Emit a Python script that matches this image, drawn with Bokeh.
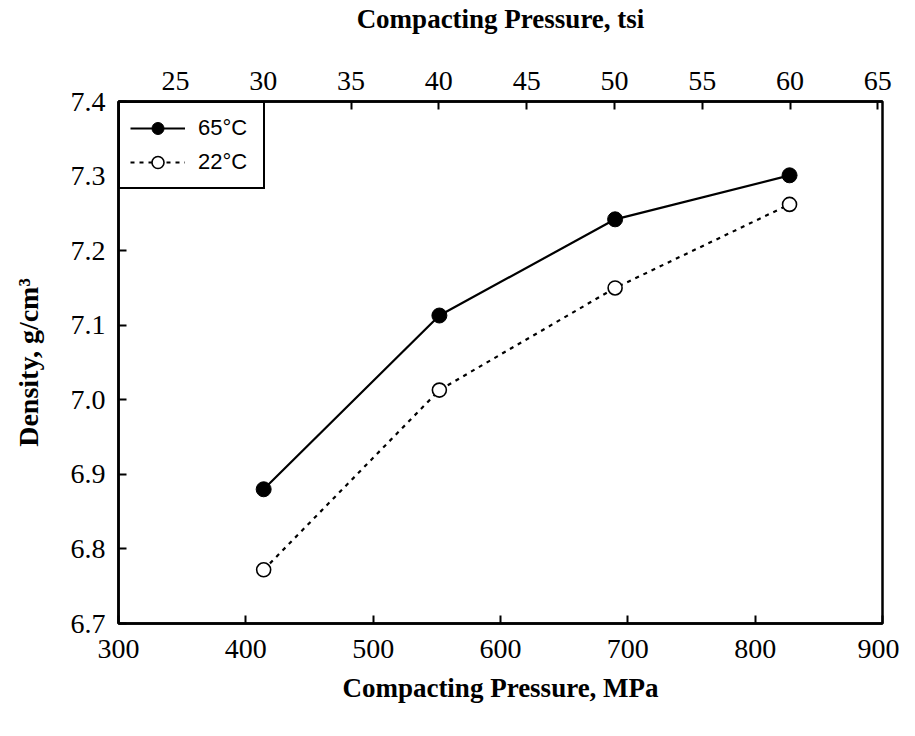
from bokeh.plotting import figure
from bokeh.models import (Range1d, LinearAxis, FixedTicker, PrintfTickFormatter)
from bokeh.embed import file_html
from bokeh.resources import INLINE

# ---- data ----
pressure_mpa = [414, 552, 690, 827]
density_65c = [6.880, 7.113, 7.242, 7.301]
density_22c = [6.772, 7.013, 7.150, 7.262]
x_ticks = [300, 400, 500, 600, 700, 800, 900]
y_ticks = [6.7, 6.8, 6.9, 7.0, 7.1, 7.2, 7.3, 7.4]
tsi_ticks = [25, 30, 35, 40, 45, 50, 55, 60, 65]
MPA_PER_TSI = 13.7895

SERIF = "'Liberation Serif', 'Times New Roman', serif"
SANS = "Liberation Sans"

p = figure(width=899, height=720, output_backend="svg", toolbar_location=None,
           x_range=Range1d(300, 900), y_range=Range1d(6.7, 7.4),
           min_border_left=118, min_border_right=17, min_border_top=96,
           min_border_bottom=97, x_axis_location=None, y_axis_location=None)
p.grid.visible = False
p.outline_line_color = "black"
p.outline_line_width = 2.5
p.outline_line_alpha = 1.0
p.background_fill_color = "white"
p.border_fill_color = "white"

p.extra_x_ranges = {"tsi": Range1d(300 / MPA_PER_TSI, 900 / MPA_PER_TSI)}


def style(ax, label_size="28px", title_size="27px"):
    ax.axis_line_color = "black"
    ax.axis_line_width = 2.5
    ax.major_tick_in = 8
    ax.major_tick_out = 0
    ax.major_tick_line_width = 2
    ax.major_tick_line_color = "black"
    ax.minor_tick_line_color = None
    ax.major_label_text_font = SERIF
    ax.major_label_text_font_size = label_size
    ax.major_label_text_color = "black"
    ax.axis_label_text_font = SERIF
    ax.axis_label_text_font_style = "bold"
    ax.axis_label_text_font_size = title_size
    ax.axis_label_text_color = "black"


xb = LinearAxis(ticker=FixedTicker(ticks=x_ticks), axis_label="Compacting Pressure, MPa")
style(xb)
xb.major_label_standoff = 16
xb.axis_label_standoff = 12
p.add_layout(xb, "below")

xt = LinearAxis(x_range_name="tsi", ticker=FixedTicker(ticks=tsi_ticks),
                axis_label="Compacting Pressure, tsi")
style(xt)
xt.major_label_standoff = 12
xt.axis_label_standoff = 35
p.add_layout(xt, "above")

yl = LinearAxis(ticker=FixedTicker(ticks=y_ticks), axis_label="Density, g/cm\u00b3",
                formatter=PrintfTickFormatter(format="%.1f"))
style(yl, title_size="28px")
yl.major_label_standoff = 13
yl.axis_label_standoff = 24
p.add_layout(yl, "left")

# ---- series ----
p.line(pressure_mpa, density_65c, line_color="black", line_width=2.2, legend_label="65\u00b0C")
p.scatter(pressure_mpa, density_65c, marker="circle", size=15, fill_color="black",
          line_color="black", legend_label="65\u00b0C")

p.line(pressure_mpa, density_22c, line_color="black", line_width=2.2, line_dash="4 5",
       legend_label="22\u00b0C")
p.scatter(pressure_mpa, density_22c, marker="circle", size=14, fill_color="white",
          line_color="black", line_width=1.6, legend_label="22\u00b0C")

lg = p.legend[0]
lg.location = "top_left"
lg.margin = 0
lg.padding = 10
lg.spacing = 4
lg.glyph_width = 55
lg.glyph_height = 30
lg.label_height = 30
lg.label_standoff = 13
lg.label_width = 55
lg.label_text_font = SANS
lg.label_text_font_size = "22px"
lg.label_text_color = "black"
lg.border_line_color = "black"
lg.border_line_width = 2.5
lg.border_line_alpha = 1.0
lg.background_fill_color = "white"
lg.background_fill_alpha = 1.0

open("out.html", "w").write(file_html(p, INLINE))
